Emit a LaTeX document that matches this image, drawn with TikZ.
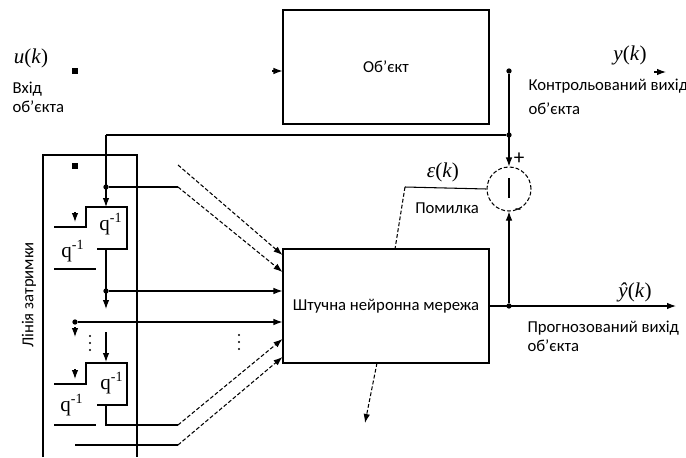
\documentclass[tikz,border=0pt]{standalone}
\usepackage{fontspec}
\setmainfont{Carlito}
\newfontfamily\tms{Liberation Serif}
\usetikzlibrary{arrows.meta,positioning}
\newcommand{\qinv}{{\tms q\textsuperscript{-1}}}

\begin{document}
\begin{tikzpicture}[x=0.02cm,y=-0.02cm,line width=0.6pt,
  lbl/.style={font=\fontsize{9.5}{11}\selectfont,align=left,inner sep=0pt,anchor=west},
  mth/.style={font=\tms\fontsize{12}{13}\selectfont\itshape,inner sep=0pt},
  qlbl/.style={font=\fontsize{12}{13}\selectfont,inner sep=0pt},
  arr/.style={-{Latex[length=1.8mm,width=1.3mm]}},
  dsh/.style={dash pattern=on 2.2pt off 1.2pt},
  jn/.style={circle,fill,inner sep=0pt,minimum size=3pt},
  sq/.style={rectangle,fill,inner sep=0pt,minimum size=3pt},
  blk/.style={draw,minimum width=4.12cm,minimum height=2.28cm,inner sep=0pt}]
\useasboundingbox (0,0) rectangle (686,457);
\node[blk] (obj) at (386,67) {\fontsize{9.5}{11}\selectfont Об'єкт};
\node[blk] (nn) at (386,306) {\fontsize{9.5}{11}\selectfont Штучна нейронна мережа};
\node[draw,dsh,circle,minimum size=0.88cm,inner sep=0pt] (sum) at (509,189) {};
\draw (509,178) -- (509,198);
\node[sq] (uin) at (75,71) {};
\coordinate (uend) at (272,71);
\draw[arr] (uend) -- (obj.west |- uend);
\node[jn] (yout) at (509,71) {};
\coordinate (ya) at (654,72);
\coordinate (yb) at (666,72);
\draw[arr] (ya) -- (yb);
\node[jn] (fb) at (509,135) {};
\coordinate (fbl) at (106,135);
\draw[arr] (yout) -- (sum.north);
\draw (fb) -- (fbl);
\draw (43,457) -- (43,155) -- (137,155) -- (137,457);
\node[sq] (dl) at (75,166) {};
\node[lbl,anchor=center,rotate=90] (dlt) at (29,295) {Лінія затримки};
\node[jn] (t0) at (106,187) {};
\node[jn] (t1) at (106,291) {};
\node[jn] (t2) at (75,322) {};
\coordinate (b1) at (106,207);
\coordinate (b1o) at (106,249);
\coordinate (b2) at (106,362);
\coordinate (b2o) at (106,405);
\draw[arr] (fbl) -- (b1);
\draw[arr] (b1o) -- (106,309);
\draw[arr] (106,332) -- (b2);
\draw (54,227) -- (86,227) -- (86,207) -- (127,207) -- (127,249) -- (97,249);
\draw (54,269) -- (96,269);
\draw (54,384) -- (86,384) -- (86,363) -- (127,363) -- (127,405) -- (97,405);
\draw (54,425) -- (96,425);
\node[qlbl] (q1) at (111,224) {\qinv};
\node[qlbl] (q2) at (73,251) {\qinv};
\node[qlbl] (q3) at (112,383) {\qinv};
\node[qlbl] (q4) at (72,405) {\qinv};
\draw[arr] (75,212) -- (75,222);
\draw[arr] (75,327) -- (75,337);
\draw[arr] (75,369) -- (75,379);
\foreach \yy in {336,343,350} {
  \fill (90,\yy) circle (1.1);
  \fill (239,\yy-1) circle (1.1);
}
\coordinate (k0) at (178,187);
\coordinate (k0b) at (178,165);
\coordinate (k3) at (178,425);
\coordinate (k4) at (178,445);
\draw (t0) -- (k0);
\draw[arr,dsh] (k0) -- (nn.west |- 0,272);
\draw[arr,dsh] (k0b) -- (nn.west |- 0,255);
\draw[arr] (t1) -- (nn.west |- t1);
\draw[arr] (t2) -- (nn.west |- t2);
\draw (b2o) -- (106,425) -- (k3);
\draw[arr,dsh] (k3) -- (nn.west |- 0,339);
\draw (75,445) -- (k4);
\draw[arr,dsh] (k4) -- (nn.west |- 0,357);
\coordinate (ek) at (405,187);
\coordinate (ein) at (395,249);
\draw (sum.west) -- (ek);
\draw[dsh] (ek) -- (ein);
\node[jn] (pd) at (509,306) {};
\coordinate (yh) at (676,306);
\draw[arr] (nn.east) -- (yh);
\draw[arr] (pd) -- (sum.south);
\coordinate (nb) at (377,363);
\coordinate (ne) at (365,423);
\draw[arr,dsh] (nb) -- (ne);
\node[mth] (u) at (31,58) {u\textup{(}k\textup{)}};
\node[lbl] (uin-t) at (12,97) {Вхід\\об'єкта};
\node[mth] (y) at (630,55) {y\textup{(}k\textup{)}};
\node[lbl] (yout-t) at (528,97) {Контрольований вихід\\[3pt]об'єкта};
\node[mth] (e) at (443,172) {ε\textup{(}k\textup{)}};
\node[lbl,anchor=center] (err) at (447,208) {Помилка};
\node[mth] (yhat) at (635,292) {ŷ\textup{(}k\textup{)}};
\node[lbl] (pr) at (527,336) {Прогнозований вихід\\об'єкта};
\node[qlbl] (plus) at (519,159) {+};
\node[qlbl] (minus) at (518,212) {-};
\end{tikzpicture}
\end{document}
